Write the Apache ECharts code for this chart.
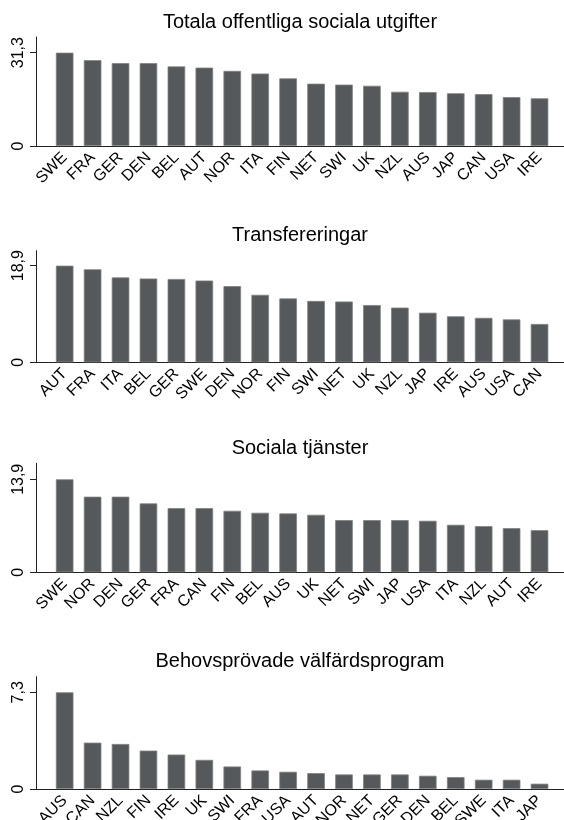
<!DOCTYPE html>
<html>
<head>
<meta charset="utf-8">
<script src="https://cdn.jsdelivr.net/npm/echarts@6/dist/echarts.min.js"></script>
<style>
html,body{margin:0;padding:0;background:#fff;}
#chart{width:564px;height:820px;}
</style>
</head>
<body>
<div id="chart"></div>
<script>
// ---- Data ----
const titles = ['Totala offentliga sociala utgifter', 'Transfereringar', 'Sociala tjänster', 'Behovsprövade välfärdsprogram'];

const categoriesTotal = ['SWE','FRA','GER','DEN','BEL','AUT','NOR','ITA','FIN','NET','SWI','UK','NZL','AUS','JAP','CAN','USA','IRE'];
const valuesTotal = [31.3, 28.8, 27.8, 27.8, 26.7, 26.3, 25.2, 24.3, 22.7, 20.9, 20.6, 20.2, 18.2, 18.1, 17.7, 17.4, 16.4, 16.0];

const categoriesTransfer = ['AUT','FRA','ITA','BEL','GER','SWE','DEN','NOR','FIN','SWI','NET','UK','NZL','JAP','IRE','AUS','USA','CAN'];
const valuesTransfer = [18.9, 18.2, 16.6, 16.4, 16.3, 16.0, 14.9, 13.2, 12.5, 12.0, 11.9, 11.2, 10.7, 9.7, 9.0, 8.7, 8.4, 7.5];

const categoriesServices = ['SWE','NOR','DEN','GER','FRA','CAN','FIN','BEL','AUS','UK','NET','SWI','JAP','USA','ITA','NZL','AUT','IRE'];
const valuesServices = [13.9, 11.3, 11.3, 10.3, 9.6, 9.6, 9.2, 8.9, 8.8, 8.6, 7.8, 7.8, 7.8, 7.7, 7.1, 6.9, 6.6, 6.3];

const categoriesMeans = ['AUS','CAN','NZL','FIN','IRE','UK','SWI','FRA','USA','AUT','NOR','NET','GER','DEN','BEL','SWE','ITA','JAP'];
const valuesMeans = [7.3, 3.5, 3.4, 2.9, 2.6, 2.2, 1.7, 1.4, 1.3, 1.2, 1.1, 1.1, 1.1, 1.0, 0.9, 0.7, 0.7, 0.4];

const yTickValues = [31.3, 18.9, 13.9, 7.3];

// ---- Layout (pixels) ----
const layout = [
  {top: 37,    tickY: 52.7,  base: 146},
  {top: 250.7, tickY: 265.7, base: 362.3},
  {top: 463.3, tickY: 479.3, base: 572.3},
  {top: 676.7, tickY: 692.3, base: 789}
];
const panels = [
  [categoriesTotal, valuesTotal],
  [categoriesTransfer, valuesTransfer],
  [categoriesServices, valuesServices],
  [categoriesMeans, valuesMeans]
];

const FONT = '"Liberation Sans", Arial, Helvetica, sans-serif';
const AXIS_COLOR = '#222';
const BAR_COLOR = '#56595b';
const W = 564;
const axisLeft = 36;
const catLeft = 50.7, catRight = 10.5;

const grid = [], xAxis = [], yAxis = [], series = [], title = [];
panels.forEach(function (p, i) {
  const L = layout[i];
  const tick = yTickValues[i];
  const h = L.base - L.top;
  const max = tick * h / (L.base - L.tickY);
  const gA = 2 * i, gB = 2 * i + 1;
  grid.push({left: axisLeft, right: 0, top: L.top, height: h, containLabel: false, outerBoundsMode: 'none'});
  grid.push({left: catLeft, right: catRight, top: L.top, height: h, containLabel: false, outerBoundsMode: 'none'});
  xAxis.push({
    gridIndex: gA, type: 'value', min: 0, max: 1,
    axisLine: {show: true, onZero: false, lineStyle: {color: AXIS_COLOR, width: 1}},
    axisTick: {show: false}, axisLabel: {show: false}, splitLine: {show: false}
  });
  xAxis.push({
    gridIndex: gB, type: 'category', data: p[0],
    axisLine: {show: false}, axisTick: {show: false}, splitLine: {show: false},
    axisLabel: {interval: 0, rotate: 45, fontSize: 16, fontFamily: FONT, color: '#000', margin: 9, hideOverlap: false}
  });
  yAxis.push({
    gridIndex: gA, type: 'value', min: 0, max: max,
    axisLine: {show: true, lineStyle: {color: AXIS_COLOR, width: 1}},
    axisTick: {show: true, length: 6, customValues: [0, tick], lineStyle: {color: AXIS_COLOR, width: 1}},
    axisLabel: {
      customValues: [0, tick], rotate: 90, fontSize: 16, fontFamily: FONT, color: '#000', margin: 9,
      formatter: function (v) { return String(v).replace('.', ','); }
    },
    splitLine: {show: false}
  });
  yAxis.push({gridIndex: gB, type: 'value', min: 0, max: max, show: false});
  series.push({
    type: 'bar', xAxisIndex: gB, yAxisIndex: gB, data: p[1],
    barCategoryGap: '37%',
    itemStyle: {color: BAR_COLOR, borderColor: '#7e8182', borderWidth: 0.8},
    emphasis: {disabled: true},
    animation: false
  });
  title.push({
    text: titles[i], left: (axisLeft + W) / 2, top: L.top - 15, padding: 0,
    textAlign: 'center', textVerticalAlign: 'middle',
    textStyle: {fontSize: 20, fontWeight: 'normal', color: '#000', fontFamily: FONT}
  });
});

const chart = echarts.init(document.getElementById('chart'), null, {renderer: 'canvas'});
chart.setOption({
  animation: false,
  backgroundColor: '#fff',
  title: title,
  grid: grid,
  xAxis: xAxis,
  yAxis: yAxis,
  series: series
});
</script>
</body>
</html>
